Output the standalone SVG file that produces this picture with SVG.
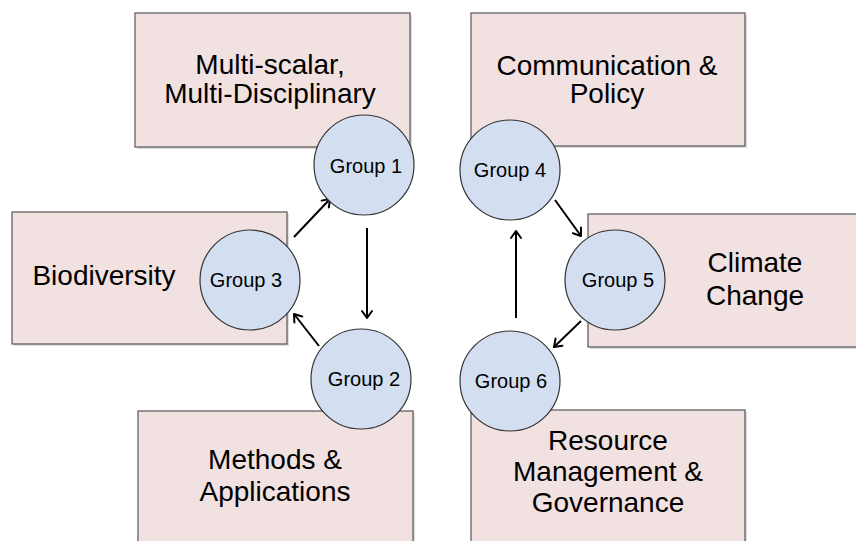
<svg xmlns="http://www.w3.org/2000/svg" width="856" height="541" viewBox="0 0 856 541">
<defs>
<marker id="ah" markerWidth="12" markerHeight="12" refX="9" refY="6" orient="auto" markerUnits="userSpaceOnUse">
<path d="M2,1 L9,6 L2,11" fill="none" stroke="#000" stroke-width="2" stroke-linecap="round" stroke-linejoin="round"/>
</marker>
</defs>
<style>
.box{fill:#f1e1e0;stroke:#555;stroke-width:1.2}
.sh{fill:#bbb;opacity:0.5}
.cir{fill:#d3dff1;stroke:#333;stroke-width:1.2}
.big{font-family:"Liberation Sans",Arial,sans-serif;font-size:28px;fill:#000;text-anchor:middle}
.grp{font-family:"Liberation Sans",Arial,sans-serif;font-size:20px;fill:#000;text-anchor:middle}
.con line{stroke:#000;stroke-width:2;marker-end:url(#ah)}
</style>
<rect width="856" height="541" fill="#fff"/>
<g id="box-multiscalar">
<rect class="sh" x="137" y="15" width="275" height="134"/>
<rect class="box" x="135" y="13" width="275" height="134"/>
<text class="big" x="270" y="74">Multi-scalar,</text>
<text class="big" x="270" y="103">Multi-Disciplinary</text>
</g>
<g id="box-communication">
<rect class="sh" x="473" y="15" width="274" height="133"/>
<rect class="box" x="471" y="13" width="274" height="133"/>
<text class="big" x="607" y="75">Communication &amp;</text>
<text class="big" x="607" y="103">Policy</text>
</g>
<g id="box-biodiversity">
<rect class="sh" x="14" y="214" width="275" height="132"/>
<rect class="box" x="12" y="212" width="275" height="132"/>
<text class="big" x="104" y="285">Biodiversity</text>
</g>
<g id="box-climate">
<rect class="sh" x="590" y="216" width="280" height="133"/>
<rect class="box" x="588" y="214" width="280" height="133"/>
<text class="big" x="755" y="272">Climate</text>
<text class="big" x="755" y="305">Change</text>
</g>
<g id="box-methods">
<rect class="sh" x="140" y="413" width="275" height="140"/>
<rect class="box" x="138" y="411" width="275" height="140"/>
<text class="big" x="275" y="469">Methods &amp;</text>
<text class="big" x="275" y="501">Applications</text>
</g>
<g id="box-resource">
<rect class="sh" x="473" y="412" width="274" height="140"/>
<rect class="box" x="471" y="410" width="274" height="140"/>
<text class="big" x="608" y="450">Resource</text>
<text class="big" x="608" y="481">Management &amp;</text>
<text class="big" x="608" y="512">Governance</text>
</g>
<g class="con" id="connectors">
<line x1="367" y1="228" x2="367" y2="318"/>
<line x1="319" y1="346" x2="294" y2="314"/>
<line x1="294" y1="237" x2="330" y2="199"/>
<line x1="516" y1="318" x2="516" y2="231"/>
<line x1="555" y1="200" x2="581" y2="236"/>
<line x1="581" y1="321" x2="554" y2="347"/>
</g>
<g id="group1"><circle class="cir" cx="364" cy="165" r="50"/><text class="grp" x="366" y="173">Group 1</text></g>
<g id="group3"><circle class="cir" cx="250" cy="280" r="50"/><text class="grp" x="246" y="287">Group 3</text></g>
<g id="group2"><circle class="cir" cx="361" cy="379" r="50"/><text class="grp" x="364" y="386">Group 2</text></g>
<g id="group4"><circle class="cir" cx="510" cy="170" r="50"/><text class="grp" x="510" y="177">Group 4</text></g>
<g id="group5"><circle class="cir" cx="615" cy="280" r="50"/><text class="grp" x="618" y="287">Group 5</text></g>
<g id="group6"><circle class="cir" cx="510" cy="381" r="50"/><text class="grp" x="511" y="388">Group 6</text></g>
</svg>
